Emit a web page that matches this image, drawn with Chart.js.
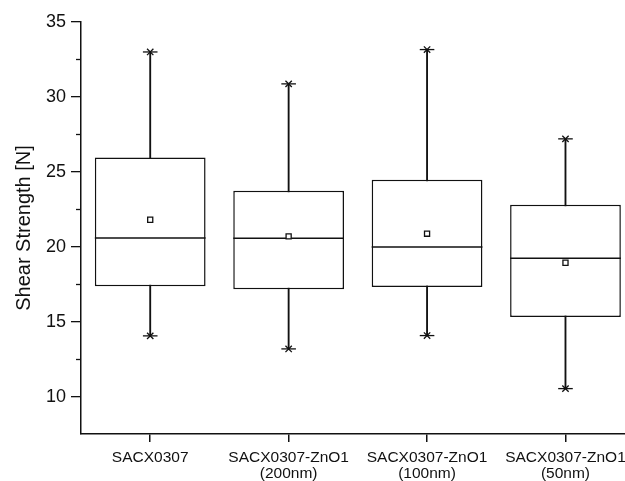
<!DOCTYPE html>
<html><head><meta charset="utf-8">
<script src="https://cdn.jsdelivr.net/npm/chart.js@4/dist/chart.umd.min.js"></script>
<style>
html,body{margin:0;padding:0;overflow:hidden;background:#fff;width:625px;height:481px}
</style></head>
<body><canvas id="c" width="625" height="481"></canvas>
<script>
const categories = [['SACX0307'], ['SACX0307-ZnO1','(200nm)'], ['SACX0307-ZnO1','(100nm)'], ['SACX0307-ZnO1','(50nm)']];
const whiskerMin = [14.05, 13.18, 14.07, 10.53];
const q1 = [17.36, 17.16, 17.31, 15.31];
const median = [20.58, 20.56, 19.98, 19.23];
const q3 = [25.96, 23.73, 24.47, 22.80];
const whiskerMax = [33.0, 30.87, 33.16, 27.2];
const mean = [21.8, 20.69, 20.87, 18.93];
const yMajorTicks = [10, 15, 20, 25, 30, 35];
const yMinorTicks = [12.5, 17.5, 22.5, 27.5, 32.5];
const yTitle = 'Shear Strength [N]';

const INK = '#111';
const FONT = "'Liberation Sans', Arial, sans-serif";
const BOX_FRACTION = 0.8;

const minorTicksPlugin = {
  id: 'minorTicks',
  afterDraw(chart) {
    const y = chart.scales.y, a = chart.chartArea;
    const ctx = chart.ctx;
    ctx.save();
    ctx.strokeStyle = INK;
    ctx.lineWidth = 1.3;
    yMinorTicks.forEach(v => {
      const py = Math.round(y.getPixelForValue(v)) + 0.5;
      ctx.beginPath();
      ctx.moveTo(a.left - 5, py);
      ctx.lineTo(a.left, py);
      ctx.stroke();
    });
    ctx.restore();
  }
};

const boxHalf = (ctx) => {
  const x = ctx.chart.scales.x;
  const r = x.getPixelForValue(BOX_FRACTION / 2) - x.getPixelForValue(0);
  return isFinite(r) && r > 0 ? r : 0;
};

const xy = (arr) => arr.map((v, i) => ({ x: i, y: v }));

const pointDs = (data, style, radius, order, extra) => Object.assign({
  type: 'line', data: xy(data), showLine: false, pointStyle: style, pointRadius: radius,
  pointHoverRadius: radius, pointBorderColor: INK, pointBackgroundColor: INK,
  pointBorderWidth: 1.3, order, clip: false
}, extra || {});

new Chart(document.getElementById('c'), {
  type: 'bar',
  data: {
    datasets: [
      { data: whiskerMin.map((v, i) => ({ x: i, y: [v, whiskerMax[i]] })), backgroundColor: INK,
        borderWidth: 0, barThickness: 1.2, grouped: false, order: 10 },
      { data: q1.map((v, i) => ({ x: i, y: [v, q3[i]] })), backgroundColor: '#fff', borderColor: INK,
        borderWidth: 1.5, borderSkipped: false, barPercentage: BOX_FRACTION, categoryPercentage: 1,
        grouped: false, order: 9, clip: false },
      pointDs(median, 'line', boxHalf, 8, { pointBorderWidth: 1.5 }),
      pointDs(whiskerMin, 'line', 7.3, 7),
      pointDs(whiskerMax, 'line', 7.3, 7),
      pointDs(whiskerMin, 'crossRot', 4.5, 6),
      pointDs(whiskerMax, 'crossRot', 4.5, 6),
      pointDs(mean, 'rect', 3.6, 1, { pointBackgroundColor: '#fff', pointBorderWidth: 1.3 })
    ]
  },
  options: {
    responsive: false,
    animation: false,
    events: [],
    layout: { autoPadding: false, padding: { top: 22, left: 0, right: 0, bottom: 0 } },
    plugins: { legend: { display: false }, tooltip: { enabled: false } },
    scales: {
      x: {
        type: 'linear',
        min: -0.5, max: 3.43,
        offset: false,
        afterBuildTicks: (s) => { s.ticks = categories.map((c, i) => ({ value: i })); },
        grid: { display: true, drawOnChartArea: false, offset: false, tickLength: 8,
                color: INK, tickColor: INK, lineWidth: 1.5 },
        border: { display: true, color: INK, width: 1.5 },
        ticks: { color: INK, font: { family: FONT, size: 15.5, lineHeight: 1.08 }, padding: 7,
                 maxRotation: 0, autoSkip: false,
                 callback: (v) => categories[v] },
        afterFit: (s) => { s.height = 47; s.paddingLeft = 0; s.paddingRight = 0; }
      },
      y: {
        min: 7.5, max: 35,
        afterBuildTicks: (s) => { s.ticks = yMajorTicks.map(v => ({ value: v })); },
        grid: { display: true, drawOnChartArea: false, tickLength: 10, color: INK, lineWidth: 1.3 },
        border: { display: true, color: INK, width: 1.5 },
        ticks: { color: INK, font: { family: FONT, size: 18 }, padding: 5 },
        title: { display: true, text: yTitle, color: INK, font: { family: FONT, size: 20 },
                 padding: { top: 12, bottom: 0 } },
        afterFit: (s) => { s.width = 81; }
      }
    }
  },
  plugins: [minorTicksPlugin]
});
</script>
</body></html>
